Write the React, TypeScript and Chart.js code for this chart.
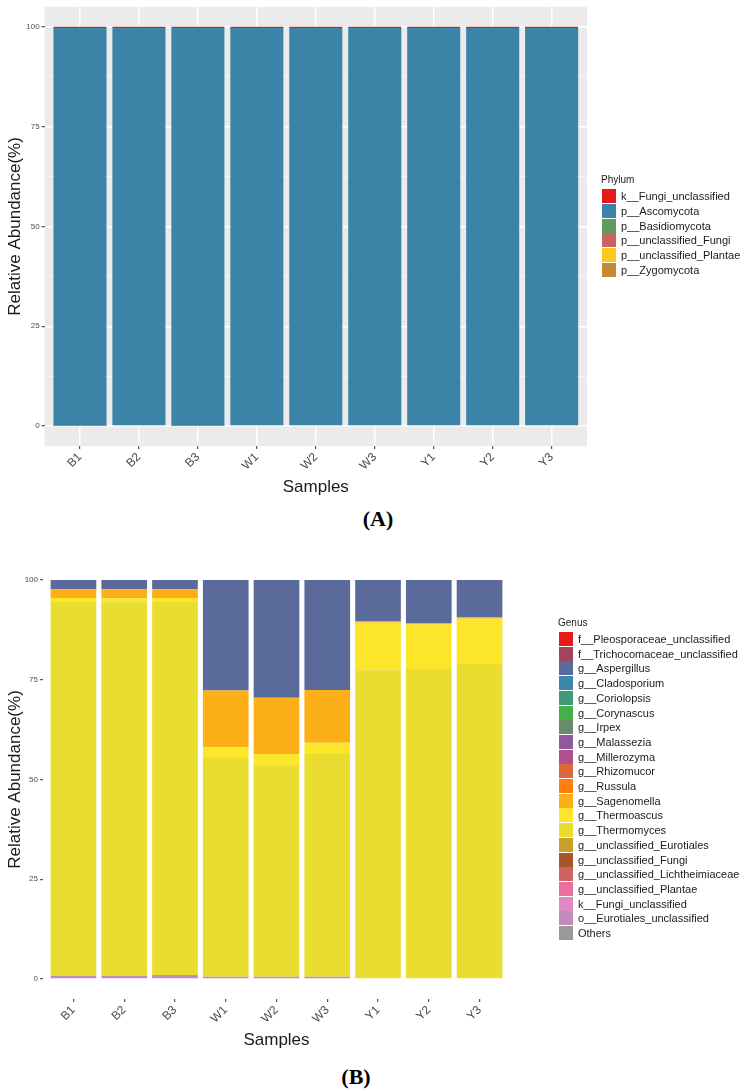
import React, { useEffect, useRef } from 'react';
import { Chart, registerables } from 'chart.js';

Chart.register(...registerables);

const samples = ['B1', 'B2', 'B3', 'W1', 'W2', 'W3', 'Y1', 'Y2', 'Y3'];
const yMajorTicks = [0, 25, 50, 75, 100];
const yMinorTicks = [12.5, 37.5, 62.5, 87.5];

// ---------- Panel A: Phylum ----------
const phylumNames = [
  'k__Fungi_unclassified',
  'p__Ascomycota',
  'p__Basidiomycota',
  'p__unclassified_Fungi',
  'p__unclassified_Plantae',
  'p__Zygomycota',
];
const phylumColors = ['#e41a1c', '#3b84a7', '#5f9a5f', '#c86464', '#fcc81e', '#c48a32'];
const kFungiUnclassifiedA = [0.3, 0.3, 0.3, 0.3, 0.3, 0.3, 0.3, 0.3, 0.3];
const ascomycota = [99.6, 99.7, 99.6, 99.7, 99.7, 99.7, 99.7, 99.7, 99.7];
const basidiomycota = [0.1, 0, 0.1, 0, 0, 0, 0, 0, 0];
const unclassifiedFungiA = [0, 0, 0, 0, 0, 0, 0, 0, 0];
const unclassifiedPlantaeA = [0, 0, 0, 0, 0, 0, 0, 0, 0];
const zygomycota = [0, 0, 0, 0, 0, 0, 0, 0, 0];
const phylumValues = [
  kFungiUnclassifiedA,
  ascomycota,
  basidiomycota,
  unclassifiedFungiA,
  unclassifiedPlantaeA,
  zygomycota,
];

// ---------- Panel B: Genus ----------
const genusNames = [
  'f__Pleosporaceae_unclassified',
  'f__Trichocomaceae_unclassified',
  'g__Aspergillus',
  'g__Cladosporium',
  'g__Coriolopsis',
  'g__Corynascus',
  'g__Irpex',
  'g__Malassezia',
  'g__Millerozyma',
  'g__Rhizomucor',
  'g__Russula',
  'g__Sagenomella',
  'g__Thermoascus',
  'g__Thermomyces',
  'g__unclassified_Eurotiales',
  'g__unclassified_Fungi',
  'g__unclassified_Lichtheimiaceae',
  'g__unclassified_Plantae',
  'k__Fungi_unclassified',
  'o__Eurotiales_unclassified',
  'Others',
];
const genusColors = [
  '#e41a1c', '#a3435e', '#5a6a9b', '#3b88a8', '#3e9a78', '#46b046', '#6a8a6a',
  '#8e5a9c', '#b0508c', '#d9683c', '#ff7f0e', '#fdaf17', '#fde52a', '#e9dd30',
  '#c9a02a', '#a65628', '#cf6262', '#e8709c', '#e088c4', '#c18cb8', '#999999',
];
const none = [0, 0, 0, 0, 0, 0, 0, 0, 0];
const aspergillus = [2.3, 2.3, 2.3, 27.7, 29.5, 27.6, 10.4, 10.8, 9.3];
const sagenomella = [2.2, 2.3, 2.2, 14.2, 14.1, 13.2, 0.3, 0.3, 0.4];
const thermoascus = [1.0, 1.0, 1.0, 2.5, 2.8, 2.6, 11.9, 11.2, 11.2];
const thermomyces = [93.7, 93.6, 93.5, 55.0, 53.0, 56.0, 77.4, 77.7, 79.1];
const eurotialesUnclassified = [0.8, 0.8, 1.0, 0.6, 0.6, 0.6, 0, 0, 0];
const genusValues = [
  none, none, aspergillus, none, none, none, none, none, none, none, none,
  sagenomella, thermoascus, thermomyces, none, none, none, none, none,
  eurotialesUnclassified, none,
];

const FONT = "'Liberation Sans', Arial, Helvetica, sans-serif";

const panelBg = {
  id: 'panelBg',
  beforeDraw(chart: any, _args: any, opts: any) {
    if (!opts || !opts.color) return;
    const { ctx, chartArea } = chart;
    ctx.save();
    ctx.fillStyle = opts.color;
    ctx.fillRect(chartArea.left, chartArea.top, chartArea.right - chartArea.left, chartArea.bottom - chartArea.top);
    ctx.restore();
  },
};

type Cfg = {
  names: string[];
  colors: string[];
  values: number[][];
  panel: boolean;
  yAxisWidth: number;
  xAxisHeight: number;
  xTitlePadBottom: number;
  padTop: number;
  padRight: number;
  xFont: number;
};

function buildConfig(c: Cfg): any {
  const datasets = c.names
    .map((name, k) => ({
      label: name,
      data: samples.map((_, i) => ({ x: i, y: c.values[k][i] })),
      backgroundColor: c.colors[k],
      borderWidth: 0,
      barPercentage: 0.9,
      categoryPercentage: 1,
    }))
    .reverse();
  const yTickList = c.panel ? [...yMajorTicks, ...yMinorTicks].sort((a, b) => a - b) : yMajorTicks;
  return {
    type: 'bar',
    data: { datasets },
    plugins: [panelBg],
    options: {
      animation: false,
      responsive: false,
      events: [],
      layout: { padding: { top: c.padTop, right: c.padRight, left: 0, bottom: 0 } },
      plugins: {
        panelBg: { color: c.panel ? '#ebebeb' : null },
        tooltip: { enabled: false },
        legend: { display: false },
      },
      scales: {
        x: {
          type: 'linear',
          stacked: true,
          offset: false,
          min: -0.6,
          max: samples.length - 1 + 0.6,
          afterBuildTicks: (s: any) => {
            s.ticks = samples.map((_, i) => ({ value: i }));
          },
          afterFit: (s: any) => {
            s.height = c.xAxisHeight;
          },
          border: { display: false },
          grid: {
            display: true,
            offset: false,
            drawOnChartArea: c.panel,
            color: '#ffffff',
            lineWidth: 1.4,
            tickLength: 3,
            tickColor: '#333333',
            tickWidth: 1,
          },
          ticks: {
            autoSkip: false,
            minRotation: 45,
            maxRotation: 45,
            padding: 1,
            color: '#4d4d4d',
            font: { family: FONT, size: c.xFont },
            callback: (v: any) => samples[Math.round(v)] ?? '',
          },
          title: {
            display: true,
            text: 'Samples',
            color: '#1a1a1a',
            font: { family: FONT, size: 17 },
            padding: { top: 0, bottom: c.xTitlePadBottom },
          },
        },
        y: {
          type: 'linear',
          stacked: true,
          min: -5,
          max: 105,
          afterBuildTicks: (s: any) => {
            s.ticks = yTickList.map((v) => ({ value: v }));
          },
          afterFit: (s: any) => {
            s.width = c.yAxisWidth;
          },
          border: { display: false },
          grid: {
            display: true,
            drawOnChartArea: c.panel,
            color: '#ffffff',
            lineWidth: (ctx: any) => (yMajorTicks.includes(ctx.tick?.value) ? 1.4 : 0.6),
            tickLength: 3,
            tickColor: (ctx: any) => (yMajorTicks.includes(ctx.tick?.value) ? '#333333' : 'rgba(0,0,0,0)'),
            tickWidth: 1,
          },
          ticks: {
            autoSkip: false,
            padding: 2,
            color: '#4d4d4d',
            font: { family: FONT, size: 8 },
            callback: (v: any) => (yMajorTicks.includes(v) ? String(v) : ''),
          },
          title: {
            display: true,
            text: 'Relative Abundance(%)',
            color: '#1a1a1a',
            font: { family: FONT, size: 17 },
            padding: { top: 4.8, bottom: 0 },
          },
        },
      },
    },
  };
}

function ChartCanvas({ cfg, top, height }: { cfg: Cfg; top: number; height: number }) {
  const ref = useRef<HTMLCanvasElement | null>(null);
  useEffect(() => {
    if (!ref.current) return;
    const chart = new Chart(ref.current, buildConfig(cfg));
    return () => chart.destroy();
  }, []);
  return (
    <canvas
      ref={ref}
      width={750}
      height={height}
      style={{ position: 'absolute', left: 0, top, width: 750, height }}
    />
  );
}

function Legend({
  title,
  names,
  colors,
  left,
  titleY,
  firstY,
  step,
}: {
  title: string;
  names: string[];
  colors: string[];
  left: number;
  titleY: number;
  firstY: number;
  step: number;
}) {
  return (
    <div style={{ position: 'absolute', left: 0, top: 0, fontFamily: FONT, color: '#1a1a1a' }}>
      <div
        style={{
          position: 'absolute',
          left: left - 1,
          top: titleY - 6,
          fontSize: 10,
          lineHeight: '12px',
          whiteSpace: 'nowrap',
        }}
      >
        {title}
      </div>
      {names.map((n, i) => (
        <div
          key={n}
          style={{
            position: 'absolute',
            left,
            top: firstY + i * step - 7,
            height: 14,
            display: 'flex',
            alignItems: 'center',
            whiteSpace: 'nowrap',
          }}
        >
          <span style={{ display: 'inline-block', width: 14, height: 14, background: colors[i] }} />
          <span style={{ marginLeft: 5, fontSize: 11, lineHeight: '14px' }}>{n}</span>
        </div>
      ))}
    </div>
  );
}

const cfgA: Cfg = {
  names: phylumNames,
  colors: phylumColors,
  values: phylumValues,
  panel: true,
  yAxisWidth: 44.6,
  xAxisHeight: 54,
  xTitlePadBottom: 2.8,
  padTop: 6,
  padRight: 163,
  xFont: 12,
};

const cfgB: Cfg = {
  names: genusNames,
  colors: genusColors,
  values: genusValues,
  panel: false,
  yAxisWidth: 43,
  xAxisHeight: 59,
  xTitlePadBottom: 7.8,
  padTop: 12,
  padRight: 240,
  xFont: 12,
};

const labelStyle: React.CSSProperties = {
  position: 'absolute',
  fontFamily: "'Liberation Serif', 'Times New Roman', serif",
  fontWeight: 'bold',
  fontSize: 22,
  lineHeight: '22px',
  width: 60,
  textAlign: 'center',
  color: '#000',
};

export default function App() {
  return (
    <div style={{ position: 'absolute', left: 0, top: 0, width: 750, height: 1091, background: '#fff' }}>
      <ChartCanvas cfg={cfgA} top={0} height={500} />
      <Legend title="Phylum" names={phylumNames} colors={phylumColors} left={602} titleY={180} firstY={196} step={14.8} />
      <div style={{ ...labelStyle, left: 348, top: 508 }}>(A)</div>
      <ChartCanvas cfg={cfgB} top={548} height={510} />
      <Legend title="Genus" names={genusNames} colors={genusColors} left={559} titleY={623} firstY={639} step={14.7} />
      <div style={{ ...labelStyle, left: 326, top: 1066 }}>(B)</div>
    </div>
  );
}
